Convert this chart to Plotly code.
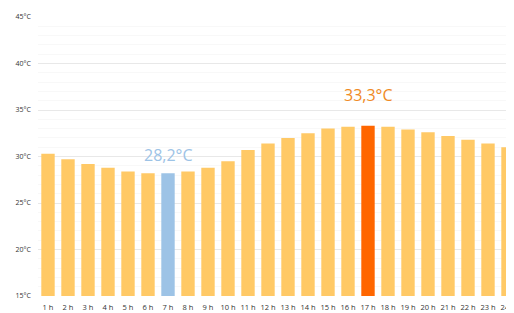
import plotly.graph_objects as go

hours = [f"{i} h" for i in range(1, 25)]
temps = [30.3, 29.7, 29.2, 28.8, 28.4, 28.2, 28.2, 28.4, 28.8, 29.5, 30.7, 31.4,
         32.0, 32.5, 33.0, 33.2, 33.3, 33.2, 32.9, 32.6, 32.2, 31.8, 31.4, 31.0]
y_ticks = [15, 20, 25, 30, 35, 40, 45]
y_tick_labels = [f"{v}°C" for v in y_ticks]
min_label = "28,2°C"
max_label = "33,3°C"

base_color = "#FFC966"
min_color = "#9DC3E6"
max_color = "#FF6600"

i_min = 6
i_max = 16
colors = [base_color] * len(temps)
colors[i_min] = min_color
colors[i_max] = max_color

fig = go.Figure(go.Bar(x=hours, y=temps, marker_color=colors, marker_line_width=0))

fig.add_annotation(x=hours[i_min], y=temps[i_min], text=min_label, showarrow=False,
                   yanchor="bottom", yshift=5,
                   font=dict(family="Open Sans", size=16, color=min_color))
fig.add_annotation(x=hours[i_max], y=temps[i_max], text=max_label, showarrow=False,
                   yanchor="bottom", yshift=18,
                   font=dict(family="Open Sans", size=16, color="#F08A24"))

fig.update_layout(
    width=514, height=313,
    margin=dict(l=30, r=0, t=9, b=25),
    paper_bgcolor="white", plot_bgcolor="white",
    bargap=0.33, showlegend=False,
    font=dict(family="Open Sans", color="#595959"),
)
fig.update_xaxes(range=[-0.5, 23.7], showgrid=False, ticks="", showline=False,
                 automargin=False, ticklabelstandoff=5,
                 tickfont=dict(size=7.5, color="#333333"), tickangle=0)
fig.update_yaxes(range=[15, 45], tickvals=y_ticks, ticktext=y_tick_labels,
                 automargin=False,
                 showgrid=True, gridcolor="#E8E8E8", gridwidth=1, zeroline=False,
                 ticks="", tickfont=dict(size=7, color="#333333"), ticklabelstandoff=6,
                 minor=dict(dtick=1, showgrid=True, gridcolor="#F8F8F8", gridwidth=1))

fig.write_html("out.html")
